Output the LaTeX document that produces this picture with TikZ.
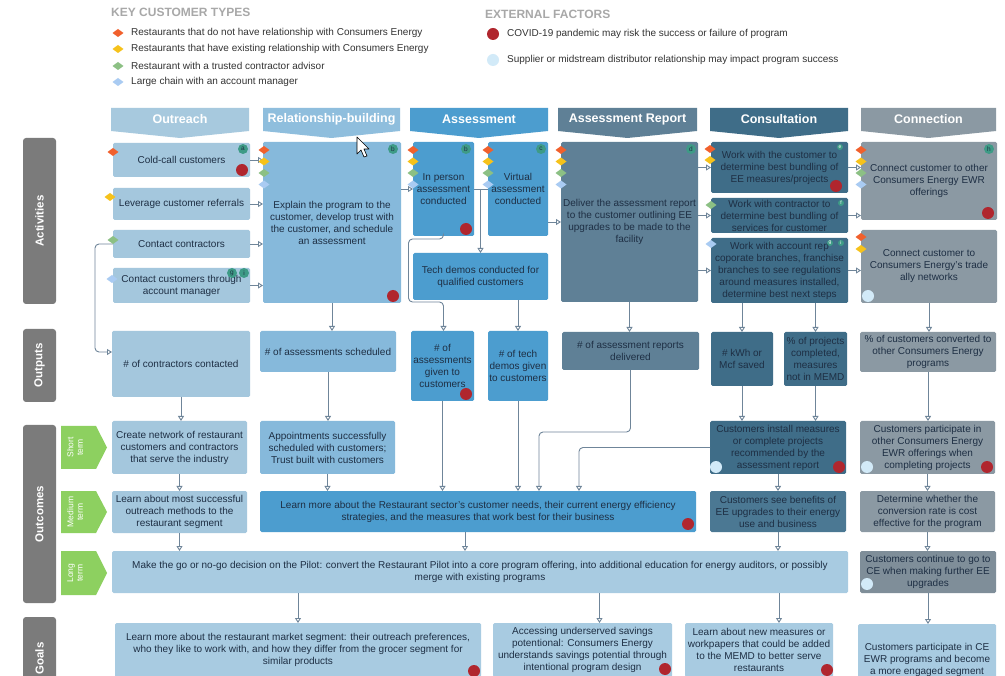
\documentclass[tikz,border=0pt]{standalone}
\usepackage{fontspec}
\setmainfont{Liberation Sans}
\usetikzlibrary{arrows.meta,calc}
\definecolor{cLight}{HTML}{A4C7DD}
\definecolor{cMed}{HTML}{86B9DB}
\definecolor{cAss}{HTML}{4C9DCF}
\definecolor{cRep}{HTML}{5F8096}
\definecolor{cCons}{HTML}{3F6D88}
\definecolor{cBen}{HTML}{4B7893}
\definecolor{cConn}{HTML}{8B99A3}
\definecolor{cLong}{HTML}{A8CBE1}
\definecolor{cCont}{HTML}{7F8E99}
\definecolor{cText}{HTML}{1E2F44}
\definecolor{cLine}{HTML}{6F8599}
\definecolor{cRow}{HTML}{7B7B7B}
\definecolor{cGreen}{HTML}{8DD060}
\definecolor{cTeal}{HTML}{3E9B86}
\definecolor{cRed}{HTML}{B0262E}
\definecolor{cBlob}{HTML}{D2EAF8}
\definecolor{cOr}{HTML}{F1602C}
\definecolor{cYe}{HTML}{F6C21B}
\definecolor{cGr}{HTML}{8CC084}
\definecolor{cBl}{HTML}{A9CBF2}
\definecolor{cKey}{HTML}{A8A8A8}
\definecolor{hOut}{HTML}{A7C9DE}
\definecolor{hRel}{HTML}{8FBEDD}
% box: name, x1, y1, x2, y2, style, text
\newcommand{\bx}[7]{\node[box,#6,anchor=north west,minimum width={(#4-#2)*1pt},minimum height={(#5-#3)*1pt}] (#1) at (#2,#3) {#7};}
% header: name, x1, x2, colour, text
\newcommand{\hdr}[5]{\fill[#4] (#2,108) -- (#3,108) -- (#3,131) -- ({(#2+#3)/2},138) -- (#2,131) -- cycle;
  \node[hdrtext] (#1) at ({(#2+#3)/2},119.5) {#5};}
% row label: name, y1, y2, text
\newcommand{\rowlab}[4]{\fill[cRow,rounded corners=3pt] (23,#2) rectangle (56,#3);
  \node[rowtext] (#1) at (39.5,{(#2+#3)/2}) {#4};}
% term label: name, y1, y2, text
\newcommand{\term}[4]{\fill[cGreen] (61,#2) -- (96,#2) -- (107,{(#2+#3)/2}) -- (96,#3) -- (61,#3) -- cycle;
  \node[termtext] (#1) at (75,{(#2+#3)/2}) {#4};}
% diamond: x, y, colour
\newcommand{\dm}[3]{\fill[#3] (#1-5.5,#2) -- (#1,#2-4) -- (#1+5.5,#2) -- (#1,#2+4) -- cycle;}
\newcommand{\rdot}[2]{\fill[cRed] (#1,#2) circle (6);}
\newcommand{\blob}[2]{\fill[cBlob] (#1,#2) circle (6);}
\newcommand{\bdg}[4]{\node[badge] (#1) at (#2,#3) {#4};}
\newcommand{\sbdg}[4]{\node[sbadge] (#1) at (#2,#3) {#4};}
\begin{document}
\begin{tikzpicture}[x=1pt,y=-1pt,
  box/.style={rectangle,rounded corners=1.5pt,inner xsep=1.5pt,inner ysep=0pt,outer sep=0pt,align=center,text=cText,font=\fontsize{10}{12}\selectfont},
  hdrtext/.style={text=white,font=\fontsize{12.5}{14}\selectfont\bfseries,inner sep=0pt},
  rowtext/.style={text=white,font=\fontsize{11.5}{13}\selectfont\bfseries,inner sep=0pt,rotate=90},
  termtext/.style={text=white,font=\fontsize{8.5}{9.5}\selectfont,inner sep=0pt,rotate=90,align=center},
  badge/.style={circle,fill=cTeal,inner sep=0pt,minimum size=10pt,font=\fontsize{6.5}{7}\selectfont,text=cText},
  sbadge/.style={circle,fill=cTeal,inner sep=0pt,minimum size=6pt,font=\fontsize{5}{5}\selectfont,text=white},
  arr/.style={draw=cLine,line width=0.9pt,rounded corners=4pt,-{Triangle[open,length=5pt,width=6pt]}},
  ln/.style={draw=cLine,line width=0.9pt},
  legtext/.style={anchor=west,inner sep=0pt,text=black!80,font=\fontsize{10}{12}\selectfont},
  keytext/.style={anchor=west,inner sep=0pt,text=cKey,font=\fontsize{12}{14}\selectfont\bfseries}]
\useasboundingbox (0,0) rectangle (1005,676);
\clip (0,0) rectangle (1005,676);
\fill[white] (0,0) rectangle (1005,676);

% ---------- legend ----------
\node[keytext] (keyct) at (111,12) {KEY CUSTOMER TYPES};
\dm{118}{33}{cOr} \node[legtext] (lg1) at (131,33) {Restaurants that do not have relationship with Consumers Energy};
\dm{118}{49}{cYe} \node[legtext] (lg2) at (131,49) {Restaurants that have existing relationship with Consumers Energy};
\dm{118}{66}{cGr} \node[legtext] (lg3) at (131,66) {Restaurant with a trusted contractor advisor};
\dm{118}{82}{cBl} \node[legtext] (lg4) at (131,82) {Large chain with an account manager};
\node[keytext] (keyef) at (485,14) {EXTERNAL FACTORS};
\rdot{493}{34} \node[legtext] (lg5) at (507,34) {COVID-19 pandemic may risk the success or failure of program};
\blob{493}{60} \node[legtext] (lg6) at (507,60) {Supplier or midstream distributor relationship may impact program success};

% ---------- headers ----------
\hdr{hout}{111}{249}{hOut}{Outreach}
\hdr{hrel}{263}{400}{hRel}{Relationship-building}
\hdr{hass}{410}{548}{cAss}{Assessment}
\hdr{hrep}{558}{697}{cRep}{Assessment Report}
\hdr{hcons}{710}{848}{cCons}{Consultation}
\hdr{hconn}{861}{996}{cConn}{Connection}

% ---------- row labels ----------
\rowlab{ract}{138}{304}{Activities}
\rowlab{rout}{329}{402}{Outputs}
\rowlab{rouc}{425}{603}{Outcomes}
\rowlab{rgoal}{617}{700}{Goals}
\term{tshort}{426}{469}{Short\\term}
\term{tmed}{491}{533}{Medium\\term}
\term{tlong}{551}{595}{Long\\term}

% ---------- activities ----------
\bx{cold}{113}{143}{250}{177}{fill=cLight}{Cold-call customers}
\bx{refer}{113}{188}{250}{220}{fill=cLight}{Leverage customer referrals}
\bx{contr}{113}{230}{250}{258}{fill=cLight}{Contact contractors}
\bx{acct}{113}{268}{250}{303}{fill=cLight}{Contact customers through\\account manager}
\bx{rel}{263}{142}{401}{303}{fill=cMed}{Explain the program to the\\customer, develop trust with\\the customer, and schedule\\an assessment}
\bx{inperson}{413}{142}{474}{236}{fill=cAss}{In person\\assessment\\conducted}
\bx{virtual}{488}{142}{548}{236}{fill=cAss}{Virtual\\assessment\\conducted}
\bx{techdemo}{413}{253}{548}{300}{fill=cAss}{Tech demos conducted for\\qualified customers}
\bx{report}{561}{142}{698}{302}{fill=cRep}{Deliver the assessment report\\to the customer outlining EE\\upgrades to be made to the\\facility}
\bx{cons1}{711}{142}{848}{193}{fill=cCons}{Work with the customer to\\determine best bundling of\\EE measures/projects}
\bx{cons2}{711}{198}{848}{233}{fill=cCons}{Work with contractor to\\determine best bundling of\\services for customer}
\bx{cons3}{711}{238}{848}{303}{fill=cCons}{Work with account rep\\coporate branches, franchise\\branches to see regulations\\around measures installed,\\determine best next steps}
\bx{conn1}{861}{142}{997}{220}{fill=cConn}{Connect customer to other\\Consumers Energy EWR\\offerings}
\bx{conn2}{861}{230}{997}{303}{fill=cConn}{Connect customer to\\Consumers Energy's trade\\ally networks}

% ---------- outputs ----------
\bx{ncontr}{112}{331}{250}{397}{fill=cLight}{\# of contractors contacted}
\bx{asched}{260}{331}{396}{372}{fill=cMed}{\# of assessments scheduled}
\bx{nassess}{411}{331}{474}{401}{fill=cAss}{\# of\\assessments\\given to\\customers}
\bx{ntech}{488}{331}{548}{401}{fill=cAss,inner xsep=0pt}{\# of tech\\demos given\\to customers}
\bx{nreport}{562}{332}{699}{370}{fill=cRep}{\# of assessment reports\\delivered}
\bx{nkwh}{711}{332}{773}{386}{fill=cCons}{\# kWh or\\Mcf saved}
\bx{npct}{784}{332}{847}{386}{fill=cCons,inner xsep=0pt}{\% of projects\\completed,\\measures\\not in MEMD}
\bx{nconv}{860}{332}{996}{372}{fill=cConn}{\% of customers converted to\\other Consumers Energy\\programs}

% ---------- outcomes ----------
\bx{network}{112}{421}{247}{474}{fill=cLight}{Create network of restaurant\\customers and contractors\\that serve the industry}
\bx{appoint}{260}{421}{395}{474}{fill=cMed}{Appointments successfully\\scheduled with customers;\\Trust built with customers}
\bx{install}{710}{421}{846}{474}{fill=cCons}{Customers install measures\\or complete projects\\recommended by the\\assessment report}
\bx{particip}{860}{421}{995}{474}{fill=cConn}{Customers participate in\\other Consumers Energy\\EWR offerings when\\completing projects}
\bx{learnmost}{112}{491}{247}{533}{fill=cLight}{Learn about most successful\\outreach methods to the\\restaurant segment}
\bx{learnbig}{260}{491}{696}{532}{fill=cAss}{Learn more about the Restaurant sector's customer needs, their current energy efficiency\\strategies, and the measures that work best for their business}
\bx{benefits}{710}{491}{846}{532}{fill=cBen}{Customers see benefits of\\EE upgrades to their energy\\use and business}
\bx{determine}{860}{491}{995}{532}{fill=cConn}{Determine whether the\\conversion rate is cost\\effective for the program}
\bx{longterm}{112}{551}{848}{593}{fill=cLong}{Make the go or no-go decision on the Pilot: convert the Restaurant Pilot into a core program offering, into additional education for energy auditors, or possibly\\merge with existing programs}
\bx{contin}{860}{551}{996}{593}{fill=cCont}{Customers continue to go to\\CE when making further EE\\upgrades}

% ---------- goals ----------
\bx{goal1}{115}{623}{481}{677}{fill=cLong}{Learn more about the restaurant market segment: their outreach preferences,\\who they like to work with, and how they differ from the grocer segment for\\similar products}
\bx{goal2}{493}{623}{672}{677}{fill=cLong}{Accessing underserved savings\\potentional: Consumers Energy\\understands savings potential through\\intentional program design}
\bx{goal3}{685}{623}{833}{677}{fill=cLong}{Learn about new measures or\\workpapers that could be added\\to the MEMD to better serve\\restaurants}
\bx{goal4}{858}{624}{996}{696}{fill=cLong}{Customers participate in CE\\EWR programs and become\\a more engaged segment}

% ---------- connectors ----------
\draw[arr] (cold.east) -- (cold.east -| rel.west);
\draw[arr] (refer.east) -- (refer.east -| rel.west);
\draw[arr] (contr.east) -- (contr.east -| rel.west);
\draw[arr] (acct.east) -- (acct.east -| rel.west);
\draw[arr] (contr.west) -- ++(-18,0) |- ($(ncontr.west)+(0,-12)$);
\draw[arr] (inperson.west -| rel.east) -- (inperson.west);
\draw[ln] (inperson.east) -- (virtual.west);
\draw[arr] (inperson.east -| techdemo.north) -- (techdemo.north);
\draw[arr] (inperson.south) -- ++(0,3) -- ++(-35,0) -- ++(0,63) -- ++(35,0) -- (nassess.north -| inperson.south);
\draw[arr] (techdemo.south -| ntech.north) -- (ntech.north);
\draw[arr] (report.west -| virtual.east) -- (report.west);
\draw[arr] (report.south) -- (report.south |- nreport.north);
\draw[arr] (cons1.west -| report.east) -- (cons1.west);
\draw[arr] (cons2.west -| report.east) -- (cons2.west);
\draw[arr] (cons3.west -| report.east) -- (cons3.west);
\draw[arr] (cons1.east) -- (cons1.east -| conn1.west);
\draw[arr] (cons2.east) -- (cons2.east -| conn1.west);
\draw[arr] (cons3.east) -- (cons3.east -| conn2.west);
\draw[arr] (cons3.south -| nkwh.north) -- (nkwh.north);
\draw[arr] (cons3.south -| npct.north) -- (npct.north);
\draw[arr] (conn2.south) -- (conn2.south |- nconv.north);
\draw[arr] (rel.south) -- (rel.south |- asched.north);

\draw[arr] (ncontr.south) -- (ncontr.south |- network.north);
\draw[arr] (asched.south) -- (asched.south |- appoint.north);
\draw[arr] (nassess.south) -- (nassess.south |- learnbig.north);
\draw[arr] (ntech.south) -- (ntech.south |- learnbig.north);
\draw[arr] (nreport.south) |- ($(learnbig.north west)+(279,-59)$) -- ($(learnbig.north west)+(279,0)$);
\draw[arr] (install.west) -| ($(learnbig.north west)+(319,0)$);
\draw[arr] (nkwh.south) -- (nkwh.south |- install.north);
\draw[arr] (npct.south) -- (npct.south |- install.north);
\draw[arr] (nconv.south) -- (nconv.south |- particip.north);

\draw[arr] (network.south) -- (network.south |- learnmost.north);
\draw[arr] (appoint.south) -- (appoint.south |- learnbig.north);
\draw[arr] (install.south) -- (install.south |- benefits.north);
\draw[arr] (particip.south) -- (particip.south |- determine.north);

\coordinate (lb) at ($(learnbig.south west)+(205,0)$);
\draw[arr] (learnmost.south) -- (learnmost.south |- longterm.north);
\draw[arr] (lb) -- (lb |- longterm.north);
\draw[arr] (benefits.south) -- (benefits.south |- longterm.north);
\draw[arr] (determine.south) -- (determine.south |- contin.north);

\coordinate (g2) at ($(goal2.north)+(17,0)$);
\coordinate (g3) at ($(goal3.north)+(20,0)$);
\draw[arr] (goal1.north |- longterm.south) -- (goal1.north);
\draw[arr] (g2 |- longterm.south) -- (g2);
\draw[arr] (g3 |- longterm.south) -- (g3);
\draw[arr] (contin.south) -- (contin.south |- goal4.north);

% ---------- customer-type diamonds ----------
\dm{113}{152}{cOr}
\dm{110}{197}{cYe}
\dm{113}{240}{cGr}
\dm{112}{279}{cBl}
\foreach \xx in {264,413,488,561,861}{
  \dm{\xx}{150}{cOr} \dm{\xx}{161.5}{cYe} \dm{\xx}{173}{cGr} \dm{\xx}{184.5}{cBl}}
\dm{710}{149}{cOr} \dm{710}{160}{cYe}
\dm{711}{205}{cGr}
\dm{711}{244}{cBl}
\dm{861}{237}{cOr} \dm{861}{249}{cYe}

% ---------- external factors ----------
\rdot{242}{170} \rdot{393}{296} \rdot{466}{229} \rdot{466}{394}
\rdot{836}{186} \rdot{988}{213} \rdot{688}{524} \rdot{839}{467}
\rdot{987}{467} \rdot{474}{671} \rdot{665}{669} \rdot{827}{670}
\blob{868}{296} \blob{716}{467} \blob{867}{467} \blob{867}{584}

% ---------- badges ----------
\bdg{ba}{243}{149}{a}
\bdg{bb1}{393}{149}{b}
\bdg{bb2}{466}{149}{b}
\bdg{bc}{541}{149}{c}
\bdg{bd}{691}{149}{d}
\bdg{bh}{989}{149}{h}
\bdg{bg1}{232}{273}{g}
\bdg{bi1}{244}{273}{i}
\sbdg{be}{840}{147}{e}
\sbdg{bf}{841}{203}{f}
\sbdg{bg2}{830}{243}{g}
\sbdg{bi2}{841}{243}{i}

% ---------- mouse pointer ----------
\filldraw[fill=white,draw=black,line width=0.6pt,line join=round]
  (357,137) -- (357,154) -- (361,150) -- (364,157) -- (367,156) -- (364,149) -- (369,149) -- cycle;
\end{tikzpicture}
\end{document}
